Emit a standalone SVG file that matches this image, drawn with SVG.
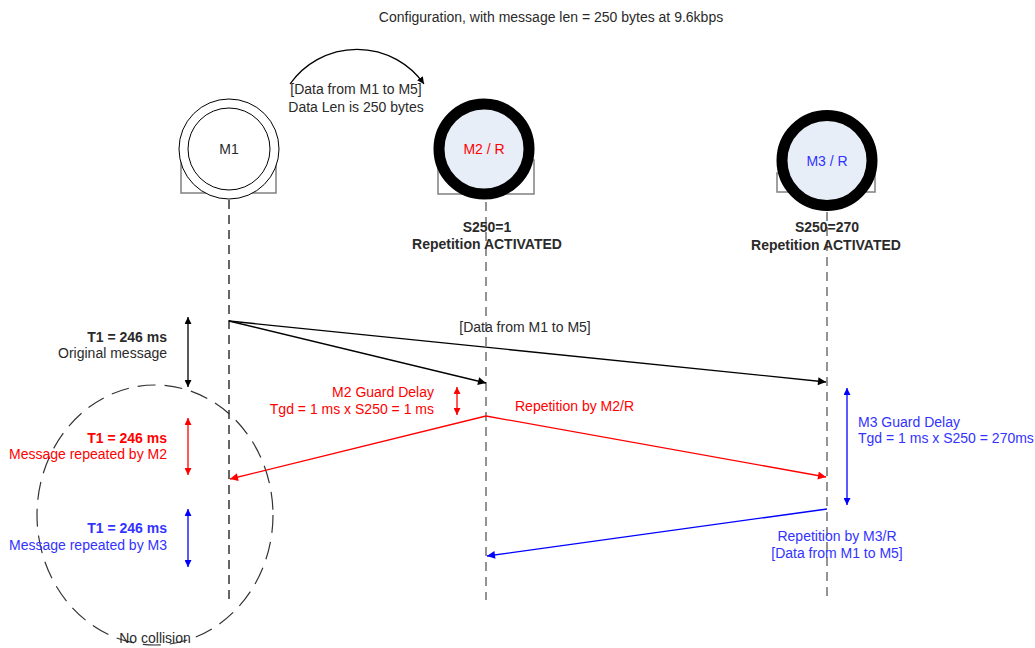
<svg xmlns="http://www.w3.org/2000/svg" width="1035" height="648" viewBox="0 0 1035 648">
<defs>
<style>
text{font-family:"Liberation Sans",Arial,sans-serif;font-size:14px;fill:#2a2a2a}
.b{font-weight:bold}
.r{fill:#ff0000}
.u{fill:#3333ff}
.m{text-anchor:middle}
.e{text-anchor:end}
.life{fill:none;stroke-width:1.5;stroke-dasharray:9,6}
.rect{fill:#fff;stroke:#808080;stroke-width:1.5}
.ln{fill:none;stroke-width:1.3}
</style>
<marker id="ak" viewBox="0 0 10 10" refX="10" refY="5" markerWidth="10" markerHeight="8" markerUnits="userSpaceOnUse" orient="auto-start-reverse"><path d="M0,0L10,5L0,10z" fill="#000"/></marker>
<marker id="ar" viewBox="0 0 10 10" refX="10" refY="5" markerWidth="10" markerHeight="8" markerUnits="userSpaceOnUse" orient="auto-start-reverse"><path d="M0,0L10,5L0,10z" fill="#ff0000"/></marker>
<marker id="ab" viewBox="0 0 10 10" refX="10" refY="5" markerWidth="10" markerHeight="8" markerUnits="userSpaceOnUse" orient="auto-start-reverse"><path d="M0,0L10,5L0,10z" fill="#0000ff"/></marker>
<marker id="sk" viewBox="0 0 10 10" refX="10" refY="5" markerWidth="7" markerHeight="7" markerUnits="userSpaceOnUse" orient="auto-start-reverse"><path d="M0,0L10,5L0,10z" fill="#000"/></marker>
<marker id="sr" viewBox="0 0 10 10" refX="10" refY="5" markerWidth="7" markerHeight="7" markerUnits="userSpaceOnUse" orient="auto-start-reverse"><path d="M0,0L10,5L0,10z" fill="#ff0000"/></marker>
<marker id="sb" viewBox="0 0 10 10" refX="10" refY="5" markerWidth="7" markerHeight="7" markerUnits="userSpaceOnUse" orient="auto-start-reverse"><path d="M0,0L10,5L0,10z" fill="#0000ff"/></marker>
</defs>
<rect width="1035" height="648" fill="#fff"/>

<text class="m" x="551" y="22">Configuration, with message len = 250 bytes at 9.6kbps</text>

<g id="lifelines">
<line class="life" x1="229" y1="200" x2="229" y2="600" stroke="#333"/>
<line class="life" x1="486" y1="202" x2="486" y2="600" stroke="#707070"/>
<line class="life" x1="827" y1="212" x2="827" y2="600" stroke="#707070"/>
</g>

<g id="M1">
<rect class="rect" x="181" y="160" width="95" height="33"/>
<circle cx="229" cy="149" r="50" fill="#fff" stroke="#000" stroke-width="1"/>
<circle cx="229" cy="149" r="41" fill="#fff" stroke="#000" stroke-width="1"/>
<text class="m" x="229" y="154">M1</text>
</g>

<g id="M2">
<rect class="rect" x="438" y="160" width="96" height="34"/>
<circle cx="484" cy="149" r="45" fill="#e8eef7" stroke="#000" stroke-width="11"/>
<text class="m r" x="484" y="154">M2 / R</text>
<text class="m b" x="487" y="232">S250=1</text>
<text class="m b" x="487" y="249">Repetition ACTIVATED</text>
</g>

<g id="M3">
<rect class="rect" x="777" y="173" width="98" height="19"/>
<circle cx="827" cy="160.5" r="45" fill="#e8eef7" stroke="#000" stroke-width="11"/>
<text class="m u" x="827" y="166">M3 / R</text>
<text class="m b" x="827" y="232">S250=270</text>
<text class="m b" x="826" y="250">Repetition ACTIVATED</text>
</g>

<g id="collision">
<ellipse cx="155" cy="515" rx="118" ry="130" fill="none" stroke="#333" stroke-width="1.2" stroke-dasharray="18,9"/>
<text class="m" x="155" y="643">No collision</text>
</g>

<g id="connectors">
<path class="ln" d="M290,84 A82,82 0 0 1 424,84" stroke="#000" marker-end="url(#sk)"/>
<line class="ln" x1="229" y1="321" x2="486" y2="383" stroke="#000" marker-end="url(#ak)"/>
<line class="ln" x1="229" y1="321" x2="826" y2="382" stroke="#000" marker-end="url(#ak)"/>
<line class="ln" x1="486" y1="416" x2="230" y2="479" stroke="#ff0000" marker-end="url(#ar)"/>
<line class="ln" x1="486" y1="416" x2="826" y2="477" stroke="#ff0000" marker-end="url(#ar)"/>
<line class="ln" x1="827" y1="509" x2="487" y2="556" stroke="#0000ff" marker-end="url(#ab)"/>
<line class="ln" x1="188" y1="317" x2="188" y2="387" stroke="#000" marker-start="url(#sk)" marker-end="url(#sk)"/>
<line class="ln" x1="188" y1="418" x2="188" y2="475" stroke="#ff0000" marker-start="url(#sr)" marker-end="url(#sr)"/>
<line class="ln" x1="188" y1="509" x2="188" y2="567" stroke="#0000ff" marker-start="url(#sb)" marker-end="url(#sb)"/>
<line class="ln" x1="457" y1="387" x2="457" y2="415" stroke="#ff0000" marker-start="url(#sr)" marker-end="url(#sr)"/>
<line class="ln" x1="847" y1="388" x2="847" y2="505" stroke="#0000ff" marker-start="url(#sb)" marker-end="url(#sb)"/>
</g>

<g id="labels">
<text class="m" x="356" y="94">[Data from M1 to M5]</text>
<text class="m" x="356" y="112">Data Len is 250 bytes</text>
<text class="m" x="525" y="332">[Data from M1 to M5]</text>
<text class="r" x="515" y="411">Repetition by M2/R</text>
<text class="e r" x="434" y="397">M2 Guard Delay</text>
<text class="e r" x="434" y="414">Tgd = 1 ms x S250 = 1 ms</text>
<text class="u" x="858" y="427">M3 Guard Delay</text>
<text class="u" x="858" y="443">Tgd = 1 ms x S250 = 270ms</text>
<text class="m u" x="837" y="541">Repetition by M3/R</text>
<text class="m u" x="837" y="558">[Data from M1 to M5]</text>
<text class="e b" x="167" y="342">T1 = 246 ms</text>
<text class="e" x="167" y="358">Original message</text>
<text class="e b r" x="167" y="443">T1 = 246 ms</text>
<text class="e r" x="167" y="459">Message repeated by M2</text>
<text class="e b u" x="167" y="533">T1 = 246 ms</text>
<text class="e u" x="167" y="550">Message repeated by M3</text>
</g>
</svg>
